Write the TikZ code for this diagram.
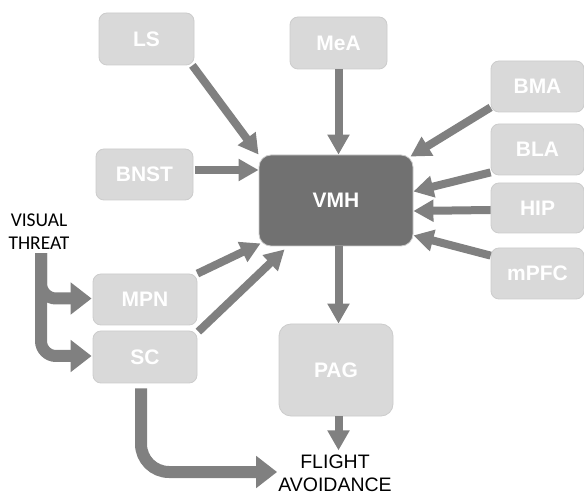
\documentclass[tikz,border=0pt]{standalone}
\usepackage{fontspec}
\setmainfont{Liberation Sans}
\newfontfamily\calfont{Carlito}
\usetikzlibrary{arrows.meta}
\definecolor{boxfill}{HTML}{D9D9D9}
\definecolor{boxline}{HTML}{CCCCCC}
\definecolor{vmhfill}{HTML}{717171}
\definecolor{arrgray}{HTML}{808080}
\begin{document}
\begin{tikzpicture}[x=1pt,y=-1pt,
  box/.style={draw=boxline, fill=boxfill, rounded corners=8pt, line width=0.8pt,
    text=white, font=\fontsize{21}{24}\selectfont\bfseries, inner sep=0pt},
  bigbox/.style={box, rounded corners=12pt},
  arr/.style={draw=arrgray, line width=8pt, -{Triangle[length=20pt,width=21pt]}},
  thkarr/.style={draw=arrgray, line width=12pt, -{Triangle[length=21pt,width=31pt]}},
  lbl/.style={align=center, inner sep=0pt}]
\useasboundingbox[fill=white] (0,0) rectangle (584,494);

% nodes
\node[box, minimum width=95pt, minimum height=52pt] (LS) at (146.5,39) {LS};
\node[box, minimum width=97pt, minimum height=52pt] (MeA) at (338.5,43) {MeA};
\node[box, minimum width=93pt, minimum height=51pt] (BMA) at (537.5,86.5) {BMA};
\node[box, minimum width=93pt, minimum height=51pt] (BLA) at (537.5,149.5) {BLA};
\node[box, minimum width=93pt, minimum height=50pt] (HIP) at (537.5,208) {HIP};
\node[box, minimum width=93pt, minimum height=51pt] (mPFC) at (537.5,273.5) {mPFC};
\node[box, minimum width=97pt, minimum height=51pt] (BNST) at (144.5,174.5) {BNST};
\node[bigbox, fill=vmhfill, minimum width=154pt, minimum height=91pt] (VMH) at (336,200.5) {VMH};
\node[box, minimum width=104pt, minimum height=51pt] (MPN) at (145,299.5) {MPN};
\node[box, minimum width=104pt, minimum height=52pt] (SC) at (145,357) {SC};
\node[bigbox, minimum width=114pt, minimum height=92pt] (PAG) at (336,370) {PAG};
\node[lbl, font=\calfont\fontsize{19.5}{23}\selectfont] (VT) at (39,232) {VISUAL\\THREAT};
\node[lbl, font=\fontsize{19.5}{23}\selectfont] (FA) at (335,473) {FLIGHT\\AVOIDANCE};

% connectors into VMH
\draw[arr] ([xshift=-2pt]LS.south east) -- (VMH.north west);
\draw[arr] (MeA.south) -- (MeA.south |- VMH.north);
\draw[arr] ([yshift=5pt]BMA.south west) -- ([xshift=-3pt,yshift=-2pt]VMH.north east);
\draw[arr] ([yshift=3pt]BLA.south west) -- ([yshift=9pt]VMH.east);
\draw[arr] ([yshift=-2pt]HIP.west) -- ([yshift=-10.5pt]VMH.east);
\draw[arr] ([yshift=-8pt]mPFC.north west) -- ([xshift=0pt,yshift=11pt]VMH.south east);
\draw[arr] ([xshift=2pt,yshift=4.5pt]BNST.east) -- ([yshift=4.5pt]BNST.east -| VMH.west);
\draw[arr] (MPN.north east) -- ([xshift=2pt,yshift=3pt]VMH.south west);
\draw[arr] ([xshift=1pt,yshift=-1pt]SC.north east) -- ([xshift=26pt,yshift=-3pt]VMH.south west);

% outputs
\draw[arr] (VMH.south -| MeA.south) -- (PAG.north -| MeA.south);
\draw[arr] (PAG.south -| MeA.south) -- ([yshift=4pt]FA.north -| MeA.south);

% visual threat
\draw[thkarr, rounded corners=15pt] ([xshift=2pt,yshift=-3pt]VT.south) |- ([xshift=-1pt,yshift=1pt]MPN.west);
\draw[thkarr, rounded corners=15pt] ([xshift=2pt,yshift=-3pt]VT.south) |- ([xshift=-1pt,yshift=1pt]SC.west);

% SC to flight
\draw[thkarr, rounded corners=28pt] ([xshift=-4pt,yshift=-5pt]SC.south) |- ([xshift=-1pt,yshift=1pt]FA.west);
\end{tikzpicture}
\end{document}
